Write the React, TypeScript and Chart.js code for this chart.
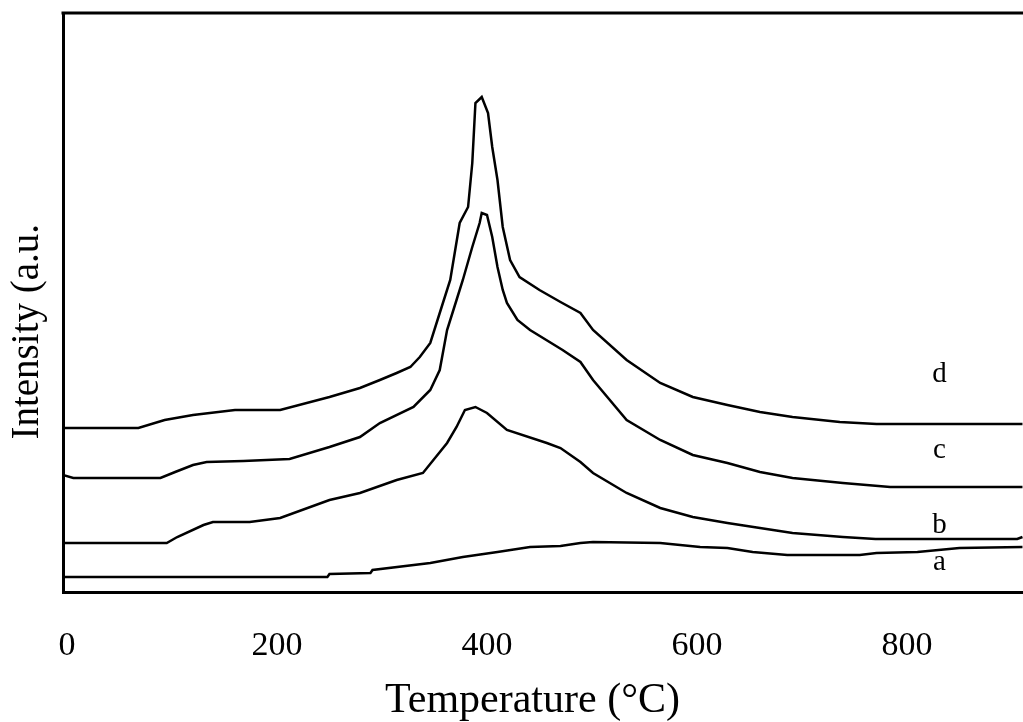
import React, { useEffect, useRef } from 'react';
import { Chart, registerables } from 'chart.js';

Chart.register(...registerables);

// Curve a
const aX = [-4, 248, 250, 289, 291, 346, 377, 410, 441, 470, 489, 501, 565, 603, 629, 653, 686, 755, 771, 810, 850, 910];
const aY = [15, 15, 18, 19, 22, 29, 35, 40, 45, 46, 49, 50, 49, 45, 44, 40, 37, 37, 39, 40, 44, 45];

// Curve b
const bX = [-4, 95, 105, 130, 139, 174, 203, 250, 279, 314, 339, 362, 371, 379, 389, 400, 419, 457, 470, 489, 501, 533, 565, 596, 629, 660, 691, 739, 770, 905, 910];
const bY = [49, 49, 55, 67, 70, 70, 74, 92, 99, 112, 119, 149, 165, 182, 185, 179, 162, 149, 144, 130, 119, 99, 84, 75, 69, 64, 59, 55, 53, 53, 55];

// Curve c
const cX = [-4, 6, 89, 103, 120, 133, 168, 212, 250, 279, 298, 330, 346, 355, 362, 371, 377, 386, 393, 395, 400, 405, 410, 415, 419, 429, 441, 472, 489, 501, 533, 565, 596, 629, 660, 691, 739, 784, 910];
const cY = [117, 114, 114, 120, 127, 130, 131, 133, 145, 155, 169, 185, 202, 222, 262, 292, 312, 345, 369, 379, 377, 355, 325, 302, 289, 272, 262, 242, 230, 212, 172, 152, 137, 129, 120, 114, 109, 105, 105];

// Curve d
const dX = [-4, 68, 93, 120, 160, 203, 250, 279, 298, 314, 327, 336, 346, 355, 365, 374, 382, 386, 389, 395, 401, 405, 410, 415, 422, 431, 450, 470, 489, 501, 533, 565, 596, 629, 660, 691, 736, 771, 910];
const dY = [164, 164, 172, 177, 182, 182, 195, 204, 212, 219, 225, 235, 249, 279, 312, 369, 385, 429, 489, 495, 479, 445, 412, 365, 332, 315, 302, 290, 279, 262, 232, 209, 195, 187, 180, 175, 170, 168, 168];

const seriesNames = ['a', 'b', 'c', 'd'];
const seriesX = [aX, bX, cX, dX];
const seriesY = [aY, bY, cY, dY];

// Curve tag positions (data coordinates)
const tagX = [831, 831, 831, 831];
const tagY = [22, 59, 134, 210];

const xTicks = [0, 200, 400, 600, 800];

const SERIF = "'Liberation Serif', 'Times New Roman', serif";

export default function App() {
  const ref = useRef<HTMLCanvasElement | null>(null);

  useEffect(() => {
    if (!ref.current) return;
    const framePlugin = {
      id: 'frameAndTags',
      afterDraw(chart: any) {
        const { ctx, chartArea, scales } = chart;
        ctx.save();
        ctx.strokeStyle = '#000';
        ctx.lineWidth = 3;
        ctx.beginPath();
        ctx.moveTo(chartArea.left - 1.5, chartArea.top);
        ctx.lineTo(chartArea.right, chartArea.top);
        ctx.stroke();
        ctx.fillStyle = '#000';
        ctx.font = `29px ${SERIF}`;
        ctx.textAlign = 'center';
        ctx.textBaseline = 'alphabetic';
        seriesNames.forEach((t, i) => {
          ctx.fillText(t, scales.x.getPixelForValue(tagX[i]), scales.y.getPixelForValue(tagY[i]));
        });
        ctx.restore();
      },
    };

    const chart = new Chart(ref.current, {
      type: 'line',
      data: {
        datasets: seriesNames.map((n, i) => ({
          label: n,
          data: seriesX[i].map((x, j) => ({ x, y: seriesY[i][j] })),
          borderColor: '#000',
          borderWidth: 2.5,
          pointRadius: 0,
          tension: 0,
          fill: false,
        })),
      },
      options: {
        responsive: false,
        animation: false,
        layout: { padding: { top: 13, left: 0, right: 0, bottom: 0 } },
        plugins: { legend: { display: false }, tooltip: { enabled: false } },
        scales: {
          x: {
            type: 'linear',
            position: 'bottom',
            min: -3.8,
            max: 910.5,
            afterFit: (s: any) => { s.height = 130; },
            afterBuildTicks: (s: any) => { s.ticks = xTicks.map((v) => ({ value: v })); },
            grid: { display: false, drawTicks: false },
            border: { display: true, color: '#000', width: 3 },
            ticks: {
              color: '#000',
              font: { family: SERIF, size: 34 },
              padding: 34,
              maxRotation: 0,
              autoSkip: false,
              includeBounds: false,
            },
            title: {
              display: true,
              text: 'Temperature (°C)  ',
              color: '#000',
              font: { family: SERIF, size: 42, lineHeight: 1 },
              padding: 0,
            },
          },
          y: {
            type: 'linear',
            min: 0,
            max: 579,
            afterFit: (s: any) => { s.width = 63; },
            grid: { display: false, drawTicks: false },
            border: { display: true, color: '#000', width: 3 },
            ticks: { display: false },
            title: {
              display: true,
              text: 'Intensity (a.u.      ',
              color: '#000',
              font: { family: SERIF, size: 39, lineHeight: 1.2 },
              padding: { top: 4, bottom: 0 },
            },
          },
        },
      },
      plugins: [framePlugin],
    } as any);
    return () => chart.destroy();
  }, []);

  return (
    <div style={{ position: 'absolute', left: 0, top: 0, width: 1023, height: 722, background: '#fff' }}>
      <canvas ref={ref} width={1023} height={722} style={{ display: 'block' }} />
    </div>
  );
}
